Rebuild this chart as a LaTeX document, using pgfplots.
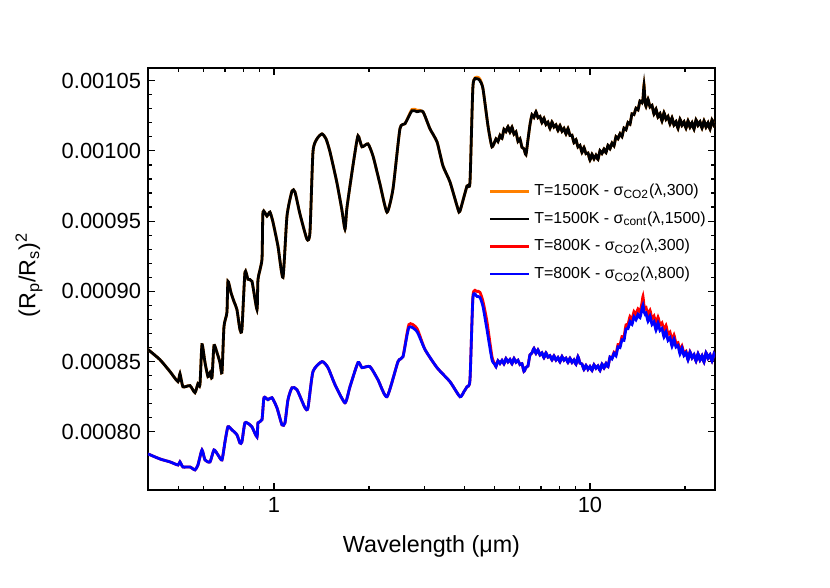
\documentclass[border=0pt]{standalone}
\usepackage{fontspec}
\setmainfont{Liberation Sans}
\usepackage{pgfplots}
\usepackage{pgfplotstable}
\pgfplotsset{compat=1.18}
\definecolor{lineorange}{RGB}{255,128,0}

% T=1500K: sigma_CO2(lambda,300) and sigma_cont(lambda,1500)
\pgfplotstableread{
lam s300 s1500
0.3994 0.0008586 0.0008586
0.4356 0.0008514 0.0008514
0.4688 0.0008429 0.0008429
0.4968 0.0008357 0.0008357
0.5040 0.0008414 0.0008414
0.5152 0.0008321 0.0008321
0.5422 0.0008329 0.0008329
0.5623 0.0008279 0.0008279
0.5747 0.0008343 0.0008343
0.5832 0.0008336 0.0008336
0.5918 0.0008621 0.0008621
0.6050 0.0008493 0.0008493
0.6183 0.0008393 0.0008393
0.6274 0.0008421 0.0008421
0.6366 0.0008386 0.0008386
0.6459 0.0008614 0.0008614
0.6602 0.0008564 0.0008564
0.6748 0.0008493 0.0008493
0.6847 0.0008421 0.0008421
0.6948 0.0008750 0.0008750
0.7098 0.0008850 0.0008850
0.7150 0.0009071 0.0009071
0.7307 0.0008993 0.0008993
0.7469 0.0008929 0.0008929
0.7634 0.0008871 0.0008871
0.7803 0.0008729 0.0008729
0.7918 0.0008729 0.0008729
0.8095 0.0009136 0.0009136
0.8274 0.0009086 0.0009086
0.8519 0.0009071 0.0009071
0.8837 0.0008871 0.0008871
0.8901 0.0009086 0.0009086
0.9163 0.0009229 0.0009229
0.9230 0.0009564 0.0009564
0.9502 0.0009536 0.0009536
0.9712 0.0009564 0.0009564
0.9927 0.0009493 0.0009493
1.0296 0.0009321 0.0009321
1.0678 0.0009100 0.0009100
1.0994 0.0009536 0.0009536
1.1402 0.0009714 0.0009714
1.1654 0.0009707 0.0009707
1.2087 0.0009550 0.0009550
1.2719 0.0009371 0.0009371
1.2999 0.0009421 0.0009421
1.3287 0.0009993 0.0009993
1.3682 0.0010086 0.0010086
1.4190 0.0010121 0.0010121
1.4610 0.0010086 0.0010086
1.5041 0.0009993 0.0009993
1.5801 0.0009779 0.0009779
1.6384 0.0009586 0.0009586
1.6780 0.0009443 0.0009443
1.7000 0.0009586 0.0009586
1.7399 0.0009750 0.0009750
1.7916 0.0009943 0.0009943
1.8446 0.0010107 0.0010107
1.8990 0.0010029 0.0010029
1.9840 0.0010050 0.0010050
2.0576 0.0009964 0.0009964
2.1649 0.0009764 0.0009764
2.2785 0.0009564 0.0009564
2.3804 0.0009729 0.0009729
2.5039 0.0010157 0.0010157
2.5972 0.0010193 0.0010193
2.7332 0.0010295 0.0010286
2.8347 0.0010290 0.0010279
2.9614 0.0010279 0.0010279
3.1165 0.0010157 0.0010157
3.2809 0.0010064 0.0010064
3.4265 0.0009893 0.0009893
3.6058 0.0009779 0.0009779
3.8221 0.0009586 0.0009586
3.8781 0.0009571 0.0009571
4.0813 0.0009750 0.0009750
4.1717 0.0009779 0.0009779
4.2634 0.0010464 0.0010464
4.3896 0.0010525 0.0010514
4.4864 0.0010510 0.0010500
4.5855 0.0010443 0.0010443
4.7557 0.0010179 0.0010179
4.8968 0.0010029 0.0010029
5.041 0.0010085 0.0010085
5.115 0.0010067 0.0010067
5.190 0.0010110 0.0010110
5.266 0.0010089 0.0010089
5.344 0.0010154 0.0010154
5.422 0.0010138 0.0010138
5.502 0.0010172 0.0010172
5.583 0.0010133 0.0010133
5.665 0.0010169 0.0010169
5.748 0.0010120 0.0010120
5.832 0.0010135 0.0010135
5.918 0.0010068 0.0010068
6.005 0.0010085 0.0010085
6.093 0.0010025 0.0010025
6.182 0.0010015 0.0010015
6.272 0.0009973 0.0009973
6.365 0.0010080 0.0010080
6.458 0.0010185 0.0010185
6.554 0.0010257 0.0010257
6.650 0.0010239 0.0010239
6.747 0.0010278 0.0010278
6.846 0.0010236 0.0010236
6.947 0.0010245 0.0010245
7.049 0.0010201 0.0010201
7.152 0.0010232 0.0010232
7.257 0.0010188 0.0010188
7.364 0.0010204 0.0010204
7.472 0.0010160 0.0010160
7.582 0.0010205 0.0010205
7.693 0.0010170 0.0010170
7.806 0.0010185 0.0010185
7.921 0.0010145 0.0010145
8.037 0.0010180 0.0010180
8.155 0.0010140 0.0010140
8.275 0.0010160 0.0010160
8.396 0.0010120 0.0010120
8.519 0.0010159 0.0010159
8.644 0.0010110 0.0010110
8.771 0.0010112 0.0010112
8.900 0.0010058 0.0010058
9.031 0.0010080 0.0010080
9.163 0.0010028 0.0010028
9.298 0.0010039 0.0010039
9.434 0.0009989 0.0009989
9.573 0.0010024 0.0010024
9.714 0.0009980 0.0009980
9.856 0.0009985 0.0009985
10.001 0.0009935 0.0009935
10.148 0.0009976 0.0009976
10.297 0.0009943 0.0009943
10.448 0.0009969 0.0009969
10.601 0.0009940 0.0009940
10.757 0.0010001 0.0010001
10.915 0.0009982 0.0009982
11.075 0.0010013 0.0010013
11.238 0.0009988 0.0009988
11.403 0.0010039 0.0010039
11.570 0.0010015 0.0010015
11.740 0.0010055 0.0010055
11.913 0.0010036 0.0010036
12.088 0.0010101 0.0010101
12.265 0.0010087 0.0010087
12.445 0.0010122 0.0010122
12.628 0.0010102 0.0010102
12.813 0.0010162 0.0010162
13.002 0.0010151 0.0010151
13.192 0.0010201 0.0010201
13.387 0.0010190 0.0010190
13.583 0.0010264 0.0010264
13.783 0.0010259 0.0010259
13.984 0.0010303 0.0010303
14.190 0.0010292 0.0010292
14.398 0.0010355 0.0010355
14.610 0.0010343 0.0010343
14.715 0.0010370 0.0010370
14.824 0.0010475 0.0010464
14.930 0.0010360 0.0010360
15.042 0.0010317 0.0010317
15.263 0.0010368 0.0010368
15.487 0.0010313 0.0010313
15.714 0.0010324 0.0010324
15.945 0.0010262 0.0010262
16.179 0.0010298 0.0010298
16.416 0.0010240 0.0010240
16.658 0.0010266 0.0010266
16.902 0.0010213 0.0010213
17.150 0.0010272 0.0010272
17.402 0.0010225 0.0010225
17.658 0.0010245 0.0010245
17.917 0.0010192 0.0010192
18.180 0.0010236 0.0010236
18.447 0.0010183 0.0010183
18.718 0.0010209 0.0010209
18.993 0.0010160 0.0010160
19.272 0.0010225 0.0010225
19.555 0.0010181 0.0010181
19.842 0.0010208 0.0010208
20.133 0.0010162 0.0010162
20.429 0.0010214 0.0010214
20.729 0.0010168 0.0010168
21.033 0.0010201 0.0010201
21.342 0.0010155 0.0010155
21.655 0.0010221 0.0010221
21.973 0.0010181 0.0010181
22.296 0.0010208 0.0010208
22.623 0.0010162 0.0010162
22.955 0.0010214 0.0010214
23.293 0.0010168 0.0010168
23.634 0.0010201 0.0010201
23.982 0.0010155 0.0010155
24.333 0.0010221 0.0010221
24.692 0.0010181 0.0010181
24.866 0.0010190 0.0010190
}\hotdata

% T=800K: sigma_CO2(lambda,300) and sigma_CO2(lambda,800)
\pgfplotstableread{
lam s300 s800
0.3994 0.0007843 0.0007843
0.4356 0.0007807 0.0007807
0.4688 0.0007786 0.0007786
0.4968 0.0007764 0.0007764
0.5040 0.0007786 0.0007786
0.5152 0.0007750 0.0007750
0.5422 0.0007750 0.0007750
0.5623 0.0007729 0.0007729
0.5747 0.0007764 0.0007764
0.5918 0.0007871 0.0007871
0.6050 0.0007800 0.0007800
0.6274 0.0007786 0.0007786
0.6459 0.0007871 0.0007871
0.6650 0.0007836 0.0007836
0.6847 0.0007800 0.0007800
0.6998 0.0007929 0.0007929
0.7150 0.0008036 0.0008036
0.7365 0.0008014 0.0008014
0.7634 0.0007979 0.0007979
0.7803 0.0007921 0.0007921
0.7918 0.0007929 0.0007929
0.8095 0.0008064 0.0008064
0.8396 0.0008050 0.0008050
0.8519 0.0008036 0.0008036
0.8837 0.0007964 0.0007964
0.8901 0.0008064 0.0008064
0.9163 0.0008086 0.0008086
0.9297 0.0008243 0.0008243
0.9572 0.0008229 0.0008229
0.9855 0.0008243 0.0008243
1.0221 0.0008171 0.0008171
1.0600 0.0008050 0.0008050
1.0835 0.0008064 0.0008064
1.1074 0.0008229 0.0008229
1.1402 0.0008314 0.0008314
1.1826 0.0008300 0.0008300
1.2535 0.0008171 0.0008171
1.2812 0.0008171 0.0008171
1.3287 0.0008429 0.0008429
1.4190 0.0008500 0.0008500
1.4825 0.0008457 0.0008457
1.5601 0.0008336 0.0008336
1.6780 0.0008207 0.0008207
1.7399 0.0008321 0.0008321
1.8446 0.0008493 0.0008493
1.8990 0.0008457 0.0008457
2.0128 0.0008464 0.0008464
2.1334 0.0008371 0.0008371
2.2785 0.0008250 0.0008250
2.4690 0.0008500 0.0008500
2.5605 0.0008536 0.0008536
2.6740 0.0008764 0.0008743
2.8347 0.0008736 0.0008714
3.0055 0.0008586 0.0008586
3.2809 0.0008457 0.0008457
3.6058 0.0008357 0.0008357
3.8781 0.0008250 0.0008250
3.9929 0.0008286 0.0008286
4.0813 0.0008321 0.0008321
4.1717 0.0008371 0.0008371
4.2634 0.0008971 0.0008957
4.3896 0.0009000 0.0008964
4.4864 0.0008993 0.0008957
4.5855 0.0008929 0.0008893
4.7206 0.0008786 0.0008729
4.8968 0.0008536 0.0008514
5.0050 0.0008479 0.0008479
5.041 0.0008464 0.0008464
5.115 0.0008506 0.0008506
5.190 0.0008487 0.0008487
5.266 0.0008508 0.0008508
5.344 0.0008484 0.0008484
5.422 0.0008521 0.0008521
5.502 0.0008498 0.0008498
5.583 0.0008515 0.0008515
5.665 0.0008485 0.0008485
5.748 0.0008522 0.0008522
5.832 0.0008496 0.0008496
5.918 0.0008509 0.0008509
6.005 0.0008479 0.0008479
6.093 0.0008485 0.0008485
6.182 0.0008431 0.0008431
6.272 0.0008458 0.0008458
6.365 0.0008469 0.0008469
6.458 0.0008548 0.0008548
6.554 0.0008562 0.0008562
6.650 0.0008594 0.0008594
6.747 0.0008559 0.0008559
6.846 0.0008583 0.0008583
6.947 0.0008548 0.0008548
7.049 0.0008562 0.0008562
7.152 0.0008528 0.0008528
7.257 0.0008562 0.0008562
7.364 0.0008532 0.0008532
7.472 0.0008542 0.0008542
7.582 0.0008512 0.0008512
7.693 0.0008541 0.0008541
7.806 0.0008511 0.0008511
7.921 0.0008529 0.0008529
8.037 0.0008498 0.0008498
8.155 0.0008536 0.0008536
8.275 0.0008510 0.0008510
8.396 0.0008524 0.0008524
8.519 0.0008494 0.0008494
8.644 0.0008524 0.0008524
8.771 0.0008494 0.0008494
8.900 0.0008512 0.0008512
9.031 0.0008481 0.0008481
9.163 0.0008535 0.0008535
9.298 0.0008489 0.0008489
9.434 0.0008483 0.0008483
9.573 0.0008444 0.0008444
9.714 0.0008473 0.0008473
9.856 0.0008445 0.0008445
10.001 0.0008465 0.0008465
10.148 0.0008437 0.0008437
10.297 0.0008477 0.0008477
10.448 0.0008453 0.0008453
10.601 0.0008469 0.0008469
10.757 0.0008437 0.0008437
10.915 0.0008482 0.0008482
11.075 0.0008454 0.0008454
11.238 0.0008486 0.0008486
11.403 0.0008464 0.0008464
11.570 0.0008532 0.0008532
11.740 0.0008525 0.0008520
11.913 0.0008566 0.0008558
12.088 0.0008553 0.0008541
12.265 0.0008621 0.0008605
12.445 0.0008620 0.0008600
12.628 0.0008678 0.0008655
12.813 0.0008677 0.0008651
13.002 0.0008761 0.0008732
13.192 0.0008766 0.0008734
13.387 0.0008820 0.0008785
13.583 0.0008800 0.0008764
13.783 0.0008856 0.0008819
13.984 0.0008836 0.0008798
14.190 0.0008875 0.0008836
14.398 0.0008853 0.0008813
14.610 0.0008920 0.0008875
14.715 0.0008964 0.0008900
14.824 0.0008900 0.0008855
14.930 0.0008882 0.0008840
15.042 0.0008887 0.0008847
15.263 0.0008827 0.0008787
15.487 0.0008865 0.0008825
15.714 0.0008805 0.0008765
15.945 0.0008824 0.0008784
16.179 0.0008764 0.0008724
16.416 0.0008816 0.0008776
16.658 0.0008762 0.0008722
16.902 0.0008776 0.0008735
17.150 0.0008717 0.0008675
17.402 0.0008757 0.0008713
17.658 0.0008696 0.0008652
17.917 0.0008710 0.0008670
18.180 0.0008644 0.0008609
18.447 0.0008689 0.0008659
18.718 0.0008629 0.0008604
18.993 0.0008635 0.0008615
19.272 0.0008571 0.0008554
19.555 0.0008611 0.0008597
19.842 0.0008553 0.0008542
20.133 0.0008574 0.0008566
20.429 0.0008516 0.0008511
20.729 0.0008570 0.0008568
21.033 0.0008527 0.0008527
21.342 0.0008550 0.0008550
21.655 0.0008504 0.0008504
21.973 0.0008556 0.0008556
22.296 0.0008510 0.0008510
22.623 0.0008543 0.0008543
22.955 0.0008497 0.0008497
23.293 0.0008563 0.0008563
23.634 0.0008523 0.0008523
23.982 0.0008550 0.0008550
24.333 0.0008504 0.0008504
24.692 0.0008556 0.0008556
24.866 0.0008530 0.0008530
}\warmdata

\begin{document}
\begin{tikzpicture}
\begin{axis}[
    at={(0,0)}, anchor=south west,
    scale only axis, width=283.5bp, height=211bp,
    xmode=log,
    xmin=0.3994, xmax=24.87,
    ymin=0.0007586, ymax=0.001059,
    xtick={1,10}, xticklabels={1,10},
    minor xtick={0.4,0.5,0.6,0.7,0.8,0.9,2,3,4,5,6,7,8,9,20},
    ytick={0.0008,0.00085,0.0009,0.00095,0.001,0.00105},
    minor y tick num=4,
    scaled y ticks=false,
    yticklabel style={/pgf/number format/.cd, fixed, fixed zerofill, precision=5, assume math mode=true},
    ticklabel style={font=\fontsize{11}{13}\selectfont},
    tick align=inside,
    major tick length=3.5bp, minor tick length=2bp,
    every tick/.style={black, line width=0.6bp},
    axis line style={line width=0.75bp},
    xlabel={Wavelength (μm)},
    ylabel={(R\textsubscript{p}/R\textsubscript{s})\textsuperscript{2}},
    label style={font=\fontsize{11.7}{14}\selectfont},
    xlabel style={at={(axis description cs:0.5,-0.133)}, anchor=center},
    ylabel style={at={(axis description cs:-0.21,0.51)}, anchor=center},
    legend style={at={(axis description cs:0.6,0.735)}, anchor=north west,
        draw=none, fill=none, font=\fontsize{8}{9.6}\selectfont,
        row sep=2.5bp, inner sep=0pt},
    legend cell align=left,
    legend image code/.code={\draw[#1] (0bp,0bp) -- (19.5bp,0bp);},
    every axis plot/.append style={smooth, tension=0.35, line width=1.4bp},
]
\addplot[lineorange] table[x=lam, y=s300] {\hotdata};
\addlegendentry{T=1500K - σ\textsubscript{CO2}(λ,300)}
\addplot[black] table[x=lam, y=s1500] {\hotdata};
\addlegendentry{T=1500K - σ\textsubscript{cont}(λ,1500)}
\addplot[red] table[x=lam, y=s300] {\warmdata};
\addlegendentry{T=800K - σ\textsubscript{CO2}(λ,300)}
\addplot[blue] table[x=lam, y=s800] {\warmdata};
\addlegendentry{T=800K - σ\textsubscript{CO2}(λ,800)}
\end{axis}
\path[use as bounding box] (-74bp,-49bp) rectangle (341bp,245bp);
\end{tikzpicture}
\end{document}
